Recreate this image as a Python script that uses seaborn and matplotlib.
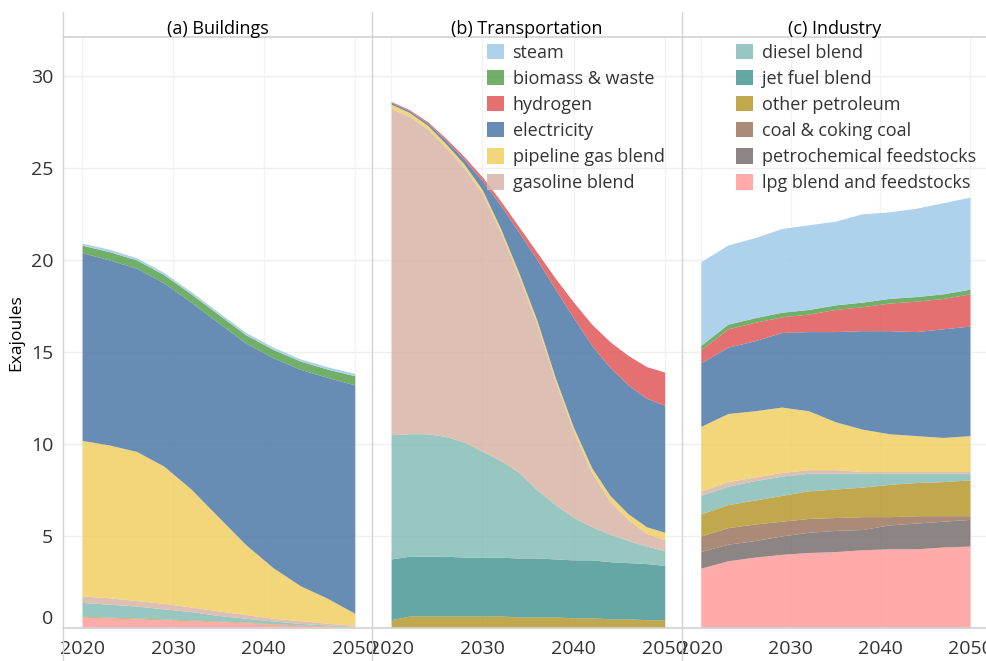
import matplotlib
matplotlib.use("Agg")
import matplotlib.pyplot as plt
from matplotlib.patches import Patch
from matplotlib.lines import Line2D
import seaborn as sns

sns.set_theme(style="whitegrid")
plt.rcParams["font.family"] = ["Open Sans", "DejaVu Sans"]

years = [2020, 2023, 2026, 2029, 2032, 2035, 2038, 2041, 2044, 2047, 2050]
trn_years = [2020, 2022, 2024, 2026, 2028, 2030, 2032, 2034, 2036, 2038,
             2040, 2042, 2044, 2046, 2048, 2050]

# stacking order, bottom to top
fuels = ["lpg blend and feedstocks", "petrochemical feedstocks", "coal & coking coal",
         "other petroleum", "jet fuel blend", "diesel blend", "gasoline blend",
         "pipeline gas blend", "electricity", "hydrogen", "biomass & waste", "steam"]
fuel_colors = ["#FF9D9A", "#79706E", "#9D7660", "#B6992D", "#499894", "#86BCB6",
               "#D7B5A6", "#F1CE63", "#4E79A7", "#E15759", "#59A14F", "#A0CBE8"]

# (a) Buildings, Exajoules
bld_lpg = [0.6, 0.55, 0.5, 0.45, 0.4, 0.35, 0.3, 0.2, 0.15, 0.1, 0.05]
bld_other_pet = [0.04, 0.04, 0.04, 0.04, 0.04, 0.03, 0.03, 0.03, 0.02, 0.02, 0.02]
bld_diesel = [0.75, 0.7, 0.65, 0.55, 0.45, 0.3, 0.2, 0.15, 0.08, 0.04, 0.03]
bld_gasoline = [0.35, 0.35, 0.3, 0.3, 0.25, 0.25, 0.2, 0.15, 0.15, 0.1, 0.05]
bld_gas = [8.45, 8.3, 8.1, 7.45, 6.4, 5.1, 3.8, 2.75, 1.9, 1.35, 0.65]
bld_elec = [10.2, 10.05, 9.95, 9.95, 10.15, 10.55, 10.95, 11.4, 11.75, 12.0, 12.4]
bld_biomass = [0.4, 0.45, 0.45, 0.45, 0.45, 0.45, 0.45, 0.45, 0.45, 0.45, 0.5]
bld_steam = [0.12, 0.13, 0.12, 0.12, 0.13, 0.12, 0.13, 0.13, 0.12, 0.13, 0.13]

# (b) Transportation (read every 2 years, the S-curve bends fast)
trn_other_pet = [0.45, 0.65, 0.65, 0.65, 0.65, 0.65, 0.65, 0.6, 0.6, 0.6,
                 0.55, 0.55, 0.5, 0.5, 0.45, 0.45]
trn_jet = [3.3, 3.25, 3.25, 3.25, 3.2, 3.2, 3.2, 3.2, 3.2, 3.15,
           3.15, 3.15, 3.1, 3.05, 3.05, 2.95]
trn_diesel = [6.75, 6.65, 6.65, 6.5, 6.25, 5.75, 5.25, 4.65, 3.7, 2.95,
              2.3, 1.8, 1.5, 1.2, 0.95, 0.8]
trn_gasoline = [17.7, 17.25, 16.55, 15.7, 14.9, 14.0, 12.4, 10.65, 9.0, 6.7,
                4.68, 2.95, 1.8, 1.13, 0.69, 0.6]
trn_gas = [0.25, 0.2, 0.2, 0.2, 0.2, 0.2, 0.2, 0.2, 0.2, 0.2,
           0.22, 0.25, 0.3, 0.32, 0.36, 0.4]
trn_elec = [0.1, 0.09, 0.12, 0.18, 0.25, 0.5, 1.25, 2.2, 3.3, 4.8,
            5.95, 6.65, 6.95, 7.0, 6.98, 6.9]
trn_hydrogen = [0.05, 0.06, 0.08, 0.12, 0.15, 0.2, 0.25, 0.3, 0.4, 0.6,
                0.85, 1.15, 1.4, 1.6, 1.72, 1.8]

# (c) Industry
ind_lpg = [3.25, 3.65, 3.85, 4.0, 4.1, 4.15, 4.25, 4.3, 4.3, 4.4, 4.45]
ind_petchem = [0.9, 0.9, 0.9, 1.0, 1.1, 1.15, 1.1, 1.3, 1.4, 1.4, 1.45]
ind_coal = [0.85, 0.9, 0.9, 0.8, 0.75, 0.7, 0.7, 0.45, 0.4, 0.3, 0.2]
ind_other_pet = [1.2, 1.25, 1.3, 1.4, 1.5, 1.55, 1.6, 1.75, 1.8, 1.85, 1.95]
ind_diesel = [1.0, 1.0, 1.05, 1.05, 0.95, 0.85, 0.75, 0.6, 0.5, 0.45, 0.35]
ind_gasoline = [0.25, 0.25, 0.2, 0.2, 0.2, 0.2, 0.1, 0.1, 0.1, 0.1, 0.1]
ind_gas = [3.5, 3.7, 3.6, 3.55, 3.2, 2.6, 2.3, 2.05, 1.95, 1.85, 1.95]
ind_elec = [3.45, 3.6, 3.8, 4.05, 4.3, 4.9, 5.35, 5.6, 5.65, 5.9, 5.95]
ind_hydrogen = [0.7, 1.0, 1.0, 0.85, 0.95, 1.2, 1.3, 1.5, 1.65, 1.65, 1.75]
ind_biomass = [0.25, 0.25, 0.25, 0.25, 0.25, 0.25, 0.25, 0.25, 0.25, 0.25, 0.25]
ind_steam = [4.55, 4.3, 4.35, 4.55, 4.6, 4.55, 4.8, 4.7, 4.8, 4.95, 5.0]

panels = [
    ("(a) Buildings", years, {
        "lpg blend and feedstocks": bld_lpg, "other petroleum": bld_other_pet,
        "diesel blend": bld_diesel, "gasoline blend": bld_gasoline,
        "pipeline gas blend": bld_gas, "electricity": bld_elec,
        "biomass & waste": bld_biomass, "steam": bld_steam}),
    ("(b) Transportation", trn_years, {
        "other petroleum": trn_other_pet, "jet fuel blend": trn_jet,
        "diesel blend": trn_diesel, "gasoline blend": trn_gasoline,
        "pipeline gas blend": trn_gas, "electricity": trn_elec,
        "hydrogen": trn_hydrogen}),
    ("(c) Industry", years, {
        "lpg blend and feedstocks": ind_lpg, "petrochemical feedstocks": ind_petchem,
        "coal & coking coal": ind_coal, "other petroleum": ind_other_pet,
        "diesel blend": ind_diesel, "gasoline blend": ind_gasoline,
        "pipeline gas blend": ind_gas, "electricity": ind_elec,
        "hydrogen": ind_hydrogen, "biomass & waste": ind_biomass, "steam": ind_steam}),
]

color_of = dict(zip(fuels, fuel_colors))
ALPHA = 0.85
TXT = "#333333"
LINE = "#d4d4d4"

fig = plt.figure(figsize=(9.87, 6.61), dpi=100)
lefts = [63, 372, 682]
rights = [372, 682, 987]
axes = []
for l, r in zip(lefts, rights):
    ax = fig.add_axes([l / 987, 1 - 628 / 661, (r - l) / 987, (628 - 37) / 661])
    axes.append(ax)

for i, (ax, (title, xs, series)) in enumerate(zip(axes, panels)):
    names = [f for f in fuels if f in series]
    ax.stackplot(xs, [series[f] for f in names],
                 colors=[color_of[f] for f in names], alpha=ALPHA, linewidth=0)
    ax.set_xlim(2017.9, 2051.9)
    ax.set_ylim(0, 32.1)
    ax.set_xticks([2020, 2030, 2040, 2050])
    ax.set_yticks([0, 5, 10, 15, 20, 25, 30])
    ax.set_facecolor("white")
    ax.grid(axis="y", color="#efefef", linewidth=1)
    ax.grid(axis="x", color="#f3f3f3", linewidth=1)
    ax.set_axisbelow(True)
    ax.tick_params(axis="x", length=0, pad=9, labelsize=14, labelcolor=TXT)
    ax.tick_params(axis="y", length=0, pad=7, labelsize=14, labelcolor=TXT)
    for side in ["left", "right"]:
        ax.spines[side].set_visible(False)
    ax.spines["top"].set_color(LINE)
    ax.spines["bottom"].set_color(LINE)
    ax.set_title(title, fontsize=13, color="black", pad=2)
    if i > 0:
        ax.set_yticklabels([])
    else:
        ax.set_ylabel("Exajoules", fontsize=12.5, color="black", labelpad=5)
        for lab in ax.get_yticklabels():
            if lab.get_text() == "0":
                lab.set_va("bottom")

# legends split over panels b and c
def handles_for(names):
    return [Patch(facecolor=color_of[f], alpha=ALPHA, edgecolor="none", label=f) for f in names]

top_down = fuels[::-1]
leg_kw = dict(loc="upper left", frameon=False, fontsize=13, handlelength=0.95,
              handleheight=0.95, handletextpad=0.45, labelspacing=0.45,
              borderaxespad=0, borderpad=0)
leg_b = axes[1].legend(handles=handles_for(top_down[:6]),
                       bbox_to_anchor=(0.372, 0.989), **leg_kw)
leg_c = axes[2].legend(handles=handles_for(top_down[6:]),
                       bbox_to_anchor=(0.178, 0.989), **leg_kw)
for leg in (leg_b, leg_c):
    for t in leg.get_texts():
        t.set_color(TXT)

# panel divider lines running through header and tick label rows
for x in lefts:
    fig.add_artist(Line2D([x / 987, x / 987], [0, 1 - 12 / 661],
                          transform=fig.transFigure, color=LINE, linewidth=1))

fig.savefig("out.png", dpi=100)
